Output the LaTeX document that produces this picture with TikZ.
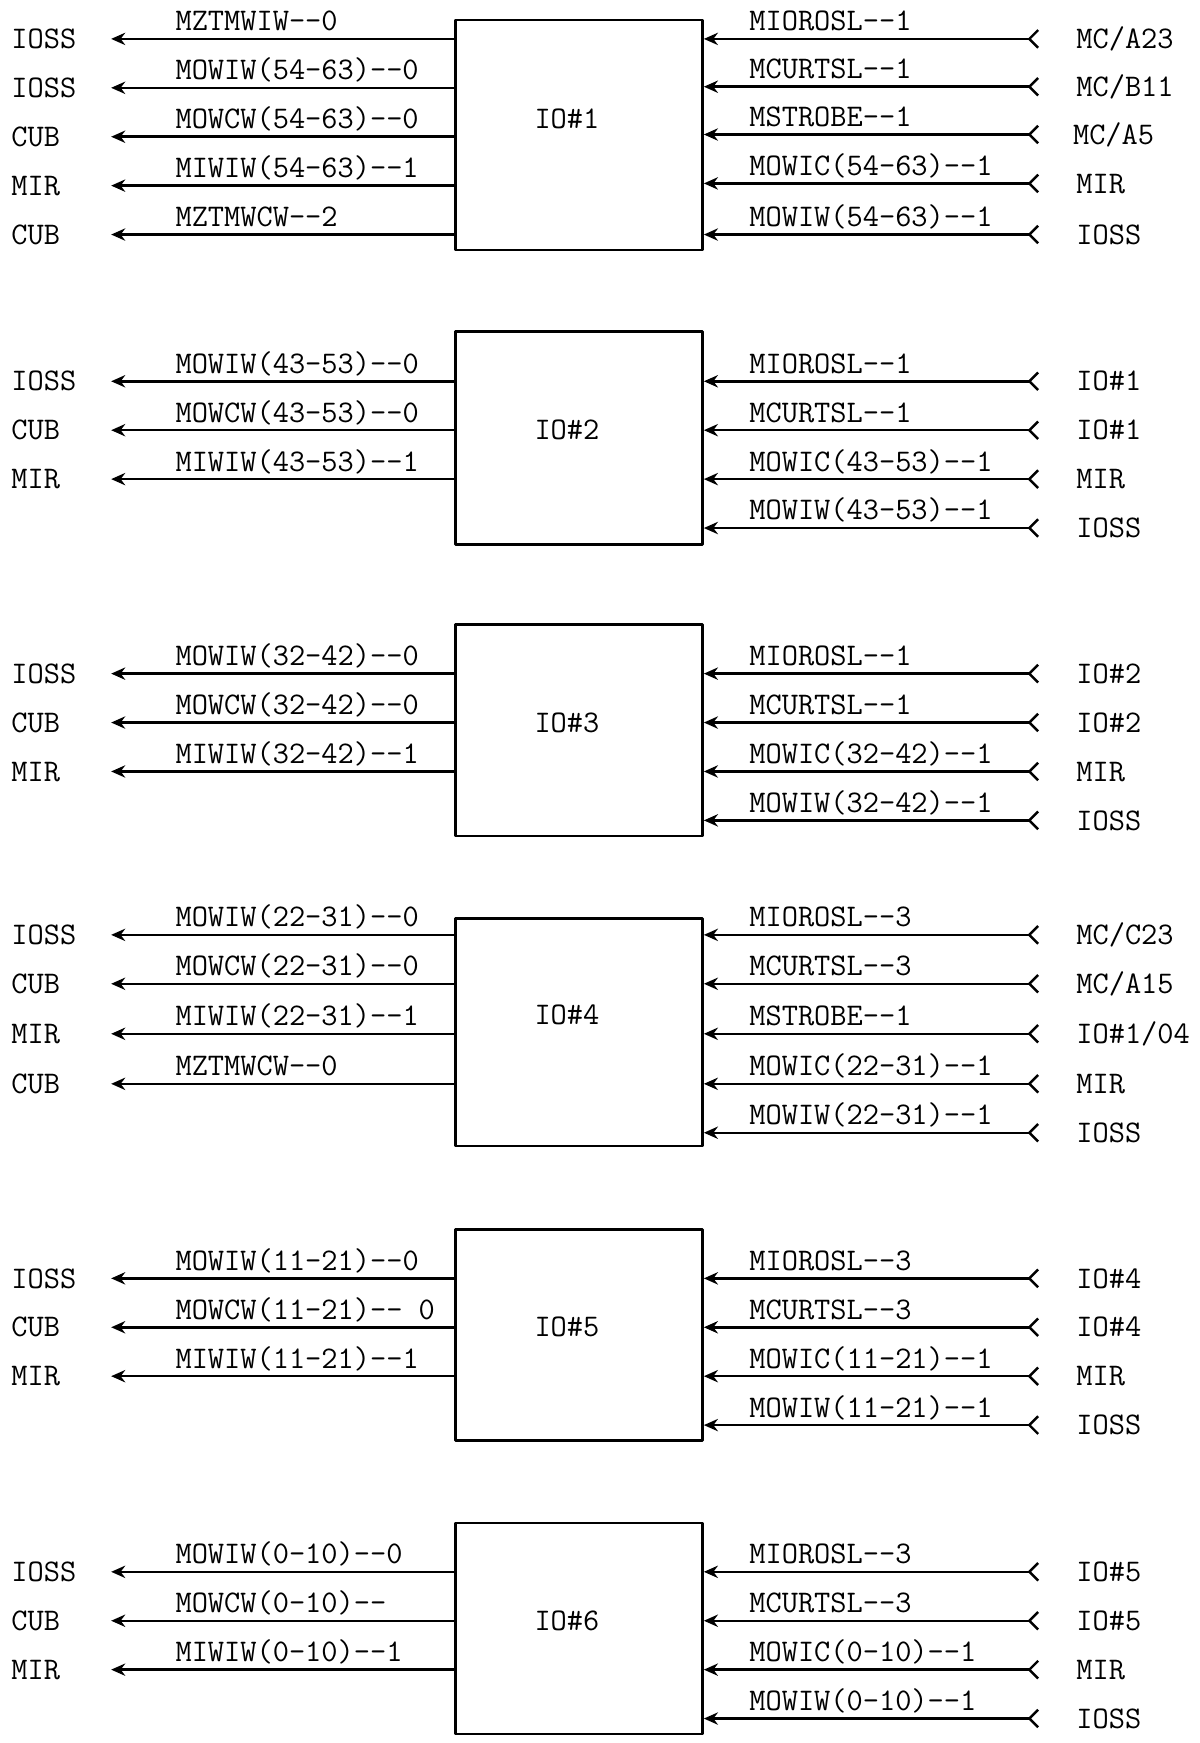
\documentclass[tikz,border=0pt]{standalone}
\usepackage{fontspec}
\usetikzlibrary{arrows.meta,fit}
\newcommand{\iofont}{\fontsize{17.9pt}{20pt}\selectfont\ttfamily}

\begin{document}
\begin{tikzpicture}[
    x=0.022224cm,
    y=-0.022224cm,
    line join=round,
    iobox/.style={
        draw,
        line width=1.5pt,
        inner sep=0pt
    },
    boxname/.style={inner sep=0pt,font=\iofont},
    endlbl/.style={anchor=west,inner sep=0pt,text height=11pt,text depth=0pt,font=\iofont},
    sigtext/.style={anchor=base west,inner sep=0pt,yshift=4.6pt,font=\iofont},
    outsig/.style={-{Stealth[length=8pt,width=7pt]},line width=1.4pt},
    insig/.style={{Straight Barb[reversed,length=5pt,width=10pt]}-{Stealth[length=8pt,width=7pt]},line width=1.4pt}
]

\useasboundingbox (0,0) rectangle (1079,1568);
\coordinate (ltip) at (100,0);
\coordinate (rtail) at (935,0);

\node[iobox,fit={(410,18) (632,225)}] (b1) {};
\node[boxname] (n1) at (510,107) {IO\#1};
\node[endlbl] (o11) at (10,35) {IOSS};
\node[endlbl] (o12) at (10,79) {IOSS};
\node[endlbl] (o13) at (10,123) {CUB};
\node[endlbl] (o14) at (10,167) {MIR};
\node[endlbl] (o15) at (10,211) {CUB};
\draw[outsig] (b1.west |- o11) -- node[sigtext,pos=.816] {MZTMWIW--0} (ltip |- o11);
\draw[outsig] (b1.west |- o12) -- node[sigtext,pos=.816] {MOWIW(54-63)--0} (ltip |- o12);
\draw[outsig] (b1.west |- o13) -- node[sigtext,pos=.816] {MOWCW(54-63)--0} (ltip |- o13);
\draw[outsig] (b1.west |- o14) -- node[sigtext,pos=.816] {MIWIW(54-63)--1} (ltip |- o14);
\draw[outsig] (b1.west |- o15) -- node[sigtext,pos=.816] {MZTMWCW--2} (ltip |- o15);
\node[endlbl] (i11) at (968,35) {MC/A23};
\node[endlbl] (i12) at (968,78) {MC/B11};
\node[endlbl] (i13) at (965,121) {MC/A5};
\node[endlbl] (i14) at (968,165) {MIR};
\node[endlbl] (i15) at (968,211) {IOSS};
\draw[insig] (rtail |- i11) -- node[sigtext,pos=.868] {MIOROSL--1} (b1.east |- i11);
\draw[insig] (rtail |- i12) -- node[sigtext,pos=.868] {MCURTSL--1} (b1.east |- i12);
\draw[insig] (rtail |- i13) -- node[sigtext,pos=.868] {MSTROBE--1} (b1.east |- i13);
\draw[insig] (rtail |- i14) -- node[sigtext,pos=.868] {MOWIC(54-63)--1} (b1.east |- i14);
\draw[insig] (rtail |- i15) -- node[sigtext,pos=.868] {MOWIW(54-63)--1} (b1.east |- i15);

\node[iobox,fit={(410,298) (632,490)}] (b2) {};
\node[boxname] (n2) at (510,387) {IO\#2};
\node[endlbl] (o21) at (10,343) {IOSS};
\node[endlbl] (o22) at (10,387) {CUB};
\node[endlbl] (o23) at (10,431) {MIR};
\draw[outsig] (b2.west |- o21) -- node[sigtext,pos=.816] {MOWIW(43-53)--0} (ltip |- o21);
\draw[outsig] (b2.west |- o22) -- node[sigtext,pos=.816] {MOWCW(43-53)--0} (ltip |- o22);
\draw[outsig] (b2.west |- o23) -- node[sigtext,pos=.816] {MIWIW(43-53)--1} (ltip |- o23);
\node[endlbl] (i21) at (968,343) {IO\#1};
\node[endlbl] (i22) at (968,387) {IO\#1};
\node[endlbl] (i23) at (968,431) {MIR};
\node[endlbl] (i24) at (968,475) {IOSS};
\draw[insig] (rtail |- i21) -- node[sigtext,pos=.868] {MIOROSL--1} (b2.east |- i21);
\draw[insig] (rtail |- i22) -- node[sigtext,pos=.868] {MCURTSL--1} (b2.east |- i22);
\draw[insig] (rtail |- i23) -- node[sigtext,pos=.868] {MOWIC(43-53)--1} (b2.east |- i23);
\draw[insig] (rtail |- i24) -- node[sigtext,pos=.868] {MOWIW(43-53)--1} (b2.east |- i24);

\node[iobox,fit={(410,562) (632,752)}] (b3) {};
\node[boxname] (n3) at (510,650) {IO\#3};
\node[endlbl] (o31) at (10,606) {IOSS};
\node[endlbl] (o32) at (10,650) {CUB};
\node[endlbl] (o33) at (10,694) {MIR};
\draw[outsig] (b3.west |- o31) -- node[sigtext,pos=.816] {MOWIW(32-42)--0} (ltip |- o31);
\draw[outsig] (b3.west |- o32) -- node[sigtext,pos=.816] {MOWCW(32-42)--0} (ltip |- o32);
\draw[outsig] (b3.west |- o33) -- node[sigtext,pos=.816] {MIWIW(32-42)--1} (ltip |- o33);
\node[endlbl] (i31) at (968,606) {IO\#2};
\node[endlbl] (i32) at (968,650) {IO\#2};
\node[endlbl] (i33) at (968,694) {MIR};
\node[endlbl] (i34) at (968,738) {IOSS};
\draw[insig] (rtail |- i31) -- node[sigtext,pos=.868] {MIOROSL--1} (b3.east |- i31);
\draw[insig] (rtail |- i32) -- node[sigtext,pos=.868] {MCURTSL--1} (b3.east |- i32);
\draw[insig] (rtail |- i33) -- node[sigtext,pos=.868] {MOWIC(32-42)--1} (b3.east |- i33);
\draw[insig] (rtail |- i34) -- node[sigtext,pos=.868] {MOWIW(32-42)--1} (b3.east |- i34);

\node[iobox,fit={(410,826) (632,1031)}] (b4) {};
\node[boxname] (n4) at (510,913) {IO\#4};
\node[endlbl] (o41) at (10,841) {IOSS};
\node[endlbl] (o42) at (10,885) {CUB};
\node[endlbl] (o43) at (10,930) {MIR};
\node[endlbl] (o44) at (10,975) {CUB};
\draw[outsig] (b4.west |- o41) -- node[sigtext,pos=.816] {MOWIW(22-31)--0} (ltip |- o41);
\draw[outsig] (b4.west |- o42) -- node[sigtext,pos=.816] {MOWCW(22-31)--0} (ltip |- o42);
\draw[outsig] (b4.west |- o43) -- node[sigtext,pos=.816] {MIWIW(22-31)--1} (ltip |- o43);
\draw[outsig] (b4.west |- o44) -- node[sigtext,pos=.816] {MZTMWCW--0} (ltip |- o44);
\node[endlbl] (i41) at (968,841) {MC/C23};
\node[endlbl] (i42) at (968,885) {MC/A15};
\node[endlbl] (i43) at (968,930) {IO\#1/04};
\node[endlbl] (i44) at (968,975) {MIR};
\node[endlbl] (i45) at (968,1019) {IOSS};
\draw[insig] (rtail |- i41) -- node[sigtext,pos=.868] {MIOROSL--3} (b4.east |- i41);
\draw[insig] (rtail |- i42) -- node[sigtext,pos=.868] {MCURTSL--3} (b4.east |- i42);
\draw[insig] (rtail |- i43) -- node[sigtext,pos=.868] {MSTROBE--1} (b4.east |- i43);
\draw[insig] (rtail |- i44) -- node[sigtext,pos=.868] {MOWIC(22-31)--1} (b4.east |- i44);
\draw[insig] (rtail |- i45) -- node[sigtext,pos=.868] {MOWIW(22-31)--1} (b4.east |- i45);

\node[iobox,fit={(410,1106) (632,1296)}] (b5) {};
\node[boxname] (n5) at (510,1194) {IO\#5};
\node[endlbl] (o51) at (10,1150) {IOSS};
\node[endlbl] (o52) at (10,1194) {CUB};
\node[endlbl] (o53) at (10,1238) {MIR};
\draw[outsig] (b5.west |- o51) -- node[sigtext,pos=.816] {MOWIW(11-21)--0} (ltip |- o51);
\draw[outsig] (b5.west |- o52) -- node[sigtext,pos=.816] {MOWCW(11-21)-- 0} (ltip |- o52);
\draw[outsig] (b5.west |- o53) -- node[sigtext,pos=.816] {MIWIW(11-21)--1} (ltip |- o53);
\node[endlbl] (i51) at (968,1150) {IO\#4};
\node[endlbl] (i52) at (968,1194) {IO\#4};
\node[endlbl] (i53) at (968,1238) {MIR};
\node[endlbl] (i54) at (968,1282) {IOSS};
\draw[insig] (rtail |- i51) -- node[sigtext,pos=.868] {MIOROSL--3} (b5.east |- i51);
\draw[insig] (rtail |- i52) -- node[sigtext,pos=.868] {MCURTSL--3} (b5.east |- i52);
\draw[insig] (rtail |- i53) -- node[sigtext,pos=.868] {MOWIC(11-21)--1} (b5.east |- i53);
\draw[insig] (rtail |- i54) -- node[sigtext,pos=.868] {MOWIW(11-21)--1} (b5.east |- i54);

\node[iobox,fit={(410,1370) (632,1560)}] (b6) {};
\node[boxname] (n6) at (510,1458) {IO\#6};
\node[endlbl] (o61) at (10,1414) {IOSS};
\node[endlbl] (o62) at (10,1458) {CUB};
\node[endlbl] (o63) at (10,1502) {MIR};
\draw[outsig] (b6.west |- o61) -- node[sigtext,pos=.816] {MOWIW(0-10)--0} (ltip |- o61);
\draw[outsig] (b6.west |- o62) -- node[sigtext,pos=.816] {MOWCW(0-10)--} (ltip |- o62);
\draw[outsig] (b6.west |- o63) -- node[sigtext,pos=.816] {MIWIW(0-10)--1} (ltip |- o63);
\node[endlbl] (i61) at (968,1414) {IO\#5};
\node[endlbl] (i62) at (968,1458) {IO\#5};
\node[endlbl] (i63) at (968,1502) {MIR};
\node[endlbl] (i64) at (968,1546) {IOSS};
\draw[insig] (rtail |- i61) -- node[sigtext,pos=.868] {MIOROSL--3} (b6.east |- i61);
\draw[insig] (rtail |- i62) -- node[sigtext,pos=.868] {MCURTSL--3} (b6.east |- i62);
\draw[insig] (rtail |- i63) -- node[sigtext,pos=.868] {MOWIC(0-10)--1} (b6.east |- i63);
\draw[insig] (rtail |- i64) -- node[sigtext,pos=.868] {MOWIW(0-10)--1} (b6.east |- i64);

\end{tikzpicture}
\end{document}
